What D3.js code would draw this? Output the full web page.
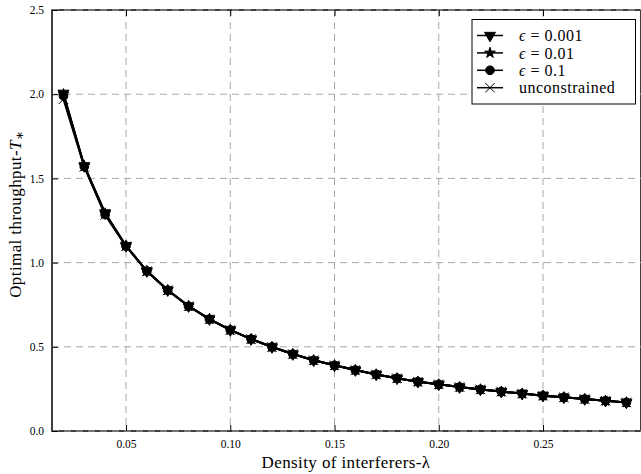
<!DOCTYPE html>
<html lang="en">
<head>
<meta charset="UTF-8">
<title>throughput</title>
<script src="https://cdn.jsdelivr.net/npm/d3@7/dist/d3.min.js"></script>
<style>
    body { margin: 0; background: #fff; }
    text { font-family: "Liberation Serif", "DejaVu Serif", serif; fill: #000; }
    .grid line { stroke: #a8a8a8; stroke-dasharray: 7,5; stroke-width: 1; }
</style>
</head>
<body>
<div id="chart"></div>
<script>
    var lambdas = [0.02, 0.03, 0.04, 0.05, 0.06, 0.07, 0.08, 0.09, 0.10, 0.11, 0.12, 0.13, 0.14, 0.15,
                   0.16, 0.17, 0.18, 0.19, 0.20, 0.21, 0.22, 0.23, 0.24, 0.25, 0.26, 0.27, 0.28, 0.29];
    var eps001 = [2.005, 1.574, 1.295, 1.100, 0.950, 0.837, 0.742, 0.665, 0.600, 0.546, 0.499, 0.457, 0.420, 0.390,
                  0.362, 0.336, 0.313, 0.293, 0.277, 0.261, 0.247, 0.234, 0.222, 0.210, 0.200, 0.190, 0.180, 0.170];
    var eps01  = [2.000, 1.574, 1.292, 1.100, 0.950, 0.837, 0.742, 0.665, 0.600, 0.546, 0.499, 0.457, 0.420, 0.390,
                  0.362, 0.336, 0.313, 0.293, 0.277, 0.261, 0.247, 0.234, 0.222, 0.210, 0.200, 0.190, 0.180, 0.170];
    var eps1   = [1.990, 1.570, 1.285, 1.098, 0.950, 0.836, 0.741, 0.664, 0.600, 0.546, 0.499, 0.457, 0.420, 0.390,
                  0.362, 0.336, 0.313, 0.293, 0.277, 0.261, 0.247, 0.234, 0.222, 0.210, 0.200, 0.190, 0.180, 0.170];
    var unconstrained = [1.970, 1.568, 1.283, 1.097, 0.949, 0.836, 0.741, 0.664, 0.600, 0.546, 0.499, 0.457, 0.420, 0.390,
                  0.362, 0.336, 0.313, 0.293, 0.277, 0.261, 0.247, 0.234, 0.222, 0.210, 0.200, 0.190, 0.180, 0.170];
    var xTicks = [0.05, 0.10, 0.15, 0.20, 0.25];
    var yTicks = [0.0, 0.5, 1.0, 1.5, 2.0, 2.5];
    var seriesNames = ["0.001", "0.01", "0.1", "unconstrained"];

    var width = 641, height = 474;
    var plotL = 52, plotR = 641, plotT = 10, plotB = 431;

    var x = d3.scaleLinear().domain([0.0145, 0.297]).range([plotL, plotR]);
    var y = d3.scaleLinear().domain([0, 2.5]).range([plotB, plotT]);

    var svg = d3.select("#chart").append("svg")
        .attr("width", width)
        .attr("height", height);

    // spines first, grid drawn over them
    svg.append("rect")
        .attr("x", plotL).attr("y", plotT)
        .attr("width", plotR - plotL).attr("height", plotB - plotT)
        .attr("fill", "none").attr("stroke", "#000").attr("stroke-width", 1.5);

    var grid = svg.append("g").attr("class", "grid");
    grid.selectAll(".gx").data(xTicks).enter().append("line")
        .attr("x1", d => x(d)).attr("x2", d => x(d))
        .attr("y1", plotT).attr("y2", plotB);
    grid.selectAll(".gy").data(yTicks).enter().append("line")
        .attr("x1", plotL).attr("x2", plotR)
        .attr("y1", d => y(d)).attr("y2", d => y(d));

    // axes, inward ticks
    var xAxis = d3.axisBottom(x).tickValues(xTicks).tickFormat(d3.format(".2f")).tickSizeInner(-6).tickSizeOuter(0).tickPadding(9);
    svg.append("g").attr("transform", "translate(0," + plotB + ")").call(xAxis);
    svg.append("g").attr("transform", "translate(0," + plotT + ")")
        .call(d3.axisTop(x).tickValues(xTicks).tickFormat("").tickSizeInner(-6).tickSizeOuter(0));
    var yAxis = d3.axisLeft(y).tickValues(yTicks).tickFormat(d3.format(".1f")).tickSizeInner(-6).tickSizeOuter(0).tickPadding(8);
    svg.append("g").attr("transform", "translate(" + plotL + ",0)").call(yAxis);

    svg.selectAll(".domain").remove();
    svg.selectAll(".tick line").attr("stroke", "#000").attr("stroke-width", 1);
    svg.selectAll(".tick text").style("font-family", "Liberation Serif, serif").style("font-size", "11.5px");

    // labels
    svg.append("text")
        .attr("x", 346).attr("y", 468)
        .attr("text-anchor", "middle").style("font-size", "17px").style("letter-spacing", "0.4px")
        .text("Density of interferers-λ");
    var yl = svg.append("text")
        .attr("transform", "translate(21," + 214 + ") rotate(-90)")
        .attr("text-anchor", "middle").style("font-size", "17px").style("letter-spacing", "0.4px");
    yl.append("tspan").text("Optimal throughput-");
    yl.append("tspan").style("font-style", "italic").text("T");
    yl.append("tspan").attr("dy", "3").style("font-size", "14px").text("∗");

    // series
    var allSeries = [eps001, eps01, eps1, unconstrained];
    var markers = ["tri", "star", "circle", "cross"];
    var symbolFor = {
        tri: d3.symbol().type(d3.symbolTriangle).size(52),
        star: d3.symbol().type(d3.symbolStar).size(36),
        circle: d3.symbol().type(d3.symbolCircle).size(60),
        cross: d3.symbol().type(d3.symbolTimes).size(60)
    };
    var line = d3.line().x((d, i) => x(lambdas[i])).y(d => y(d));

    function drawMarker(g, kind, px, py) {
        var p = g.append("path").attr("d", symbolFor[kind]())
            .attr("transform", "translate(" + px + "," + py + ")" + (kind === "tri" ? " rotate(180)" : ""));
        if (kind === "cross") {
            p.attr("fill", "none").attr("stroke", "#000").attr("stroke-width", 1);
        } else {
            p.attr("fill", "#000").attr("stroke", "#000").attr("stroke-width", 1);
        }
    }

    allSeries.forEach(function (vals, k) {
        var g = svg.append("g");
        g.append("path").datum(vals)
            .attr("d", line)
            .attr("fill", "none").attr("stroke", "#000").attr("stroke-width", 2);
        vals.forEach(function (v, i) {
            drawMarker(g, markers[k], x(lambdas[i]), y(v));
        });
    });

    // legend
    var lg = svg.append("g");
    lg.append("rect")
        .attr("x", 472).attr("y", 19.5).attr("width", 163.5).attr("height", 84.5)
        .attr("fill", "#fff").attr("stroke", "#000").attr("stroke-width", 1);
    seriesNames.forEach(function (name, k) {
        var ry = 35.5 + k * 17.4;
        lg.append("line").attr("x1", 477).attr("x2", 503).attr("y1", ry).attr("y2", ry)
            .attr("stroke", "#000").attr("stroke-width", 1.5);
        drawMarker(lg, markers[k], 490, ry);
        var t = lg.append("text").attr("x", 519).attr("y", ry).attr("dy", "0.35em")
            .style("font-size", "16px").style("letter-spacing", "0.5px");
        if (k < 3) {
            t.append("tspan").style("font-style", "italic").text("ϵ");
            t.append("tspan").text(" = " + name);
        } else {
            t.text(name);
        }
    });
</script>
</body>
</html>
